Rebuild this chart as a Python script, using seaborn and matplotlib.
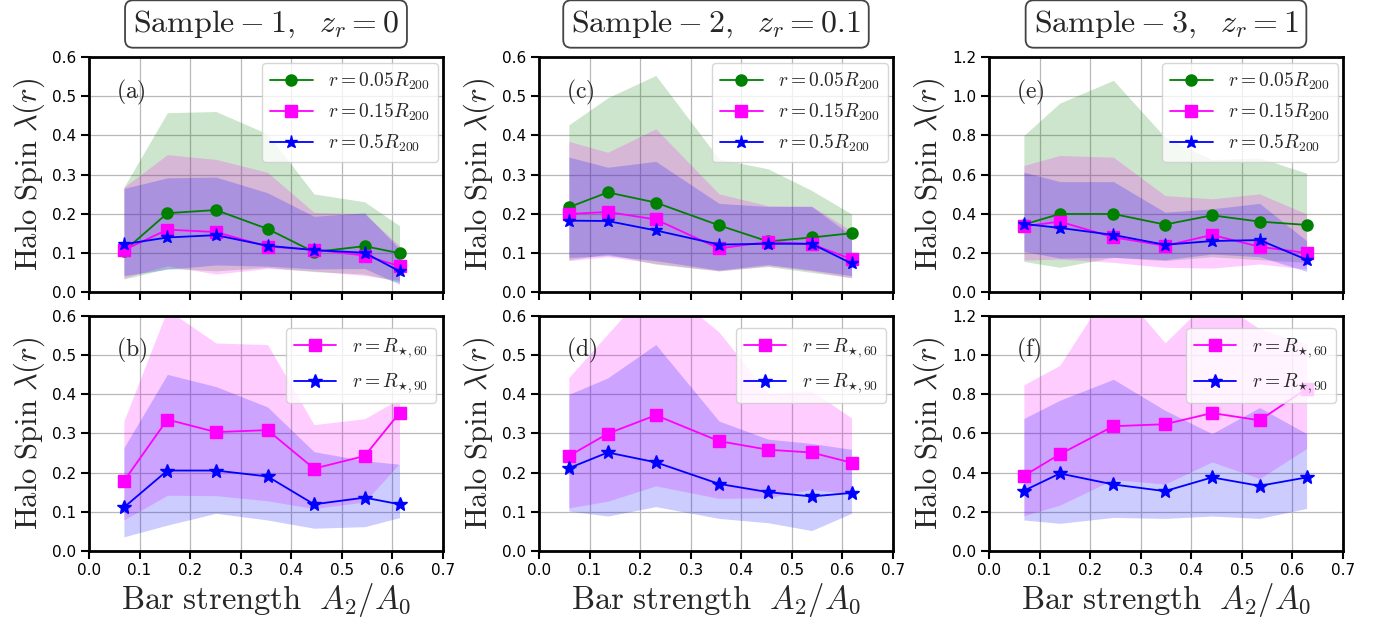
"""
Halo spin vs bar strength for the three samples (top: fixed radii, bottom: stellar radii).
"""
import numpy as np
import matplotlib
matplotlib.use('Agg')
import matplotlib.pyplot as plt
from matplotlib.ticker import FormatStrFormatter
import seaborn as sns

# ---- Sample 1 (z_r = 0) ----
x_s1 = [0.069, 0.155, 0.251, 0.353, 0.445, 0.545, 0.614]
s1_r005 = [0.105, 0.202, 0.210, 0.162, 0.103, 0.118, 0.100]
s1_r005_lo = [0.034, 0.061, 0.055, 0.064, 0.053, 0.047, 0.026]
s1_r005_hi = [0.268, 0.458, 0.461, 0.404, 0.251, 0.231, 0.170]
s1_r015 = [0.108, 0.160, 0.154, 0.117, 0.109, 0.094, 0.067]
s1_r015_lo = [0.037, 0.068, 0.047, 0.061, 0.055, 0.043, 0.031]
s1_r015_hi = [0.268, 0.351, 0.339, 0.306, 0.204, 0.200, 0.119]
s1_r05 = [0.123, 0.140, 0.146, 0.119, 0.108, 0.101, 0.054]
s1_r05_lo = [0.043, 0.059, 0.070, 0.067, 0.060, 0.061, 0.021]
s1_r05_hi = [0.265, 0.292, 0.294, 0.254, 0.194, 0.203, 0.111]
s1_r60 = [0.178, 0.335, 0.303, 0.308, 0.210, 0.242, 0.352]
s1_r60_lo = [0.079, 0.142, 0.141, 0.128, 0.108, 0.125, 0.223]
s1_r60_hi = [0.331, 0.615, 0.530, 0.526, 0.322, 0.337, 0.388]
s1_r90 = [0.111, 0.205, 0.205, 0.190, 0.119, 0.136, 0.119]
s1_r90_lo = [0.036, 0.066, 0.096, 0.079, 0.058, 0.062, 0.085]
s1_r90_hi = [0.263, 0.450, 0.419, 0.367, 0.253, 0.230, 0.221]

# ---- Sample 2 (z_r = 0.1) ----
x_s2 = [0.059, 0.136, 0.231, 0.356, 0.453, 0.539, 0.618]
s2_r005 = [0.217, 0.255, 0.229, 0.171, 0.130, 0.140, 0.151]
s2_r005_lo = [0.083, 0.098, 0.072, 0.055, 0.066, 0.051, 0.038]
s2_r005_hi = [0.427, 0.496, 0.553, 0.340, 0.315, 0.260, 0.200]
s2_r015 = [0.200, 0.205, 0.186, 0.112, 0.129, 0.123, 0.085]
s2_r015_lo = [0.081, 0.091, 0.074, 0.055, 0.068, 0.055, 0.037]
s2_r015_hi = [0.385, 0.357, 0.417, 0.251, 0.221, 0.220, 0.157]
s2_r05 = [0.183, 0.182, 0.158, 0.122, 0.124, 0.124, 0.074]
s2_r05_lo = [0.089, 0.094, 0.081, 0.057, 0.071, 0.057, 0.043]
s2_r05_hi = [0.345, 0.319, 0.334, 0.227, 0.219, 0.219, 0.145]
s2_r60 = [0.242, 0.299, 0.346, 0.280, 0.258, 0.251, 0.225]
s2_r60_lo = [0.110, 0.127, 0.166, 0.134, 0.136, 0.157, 0.145]
s2_r60_hi = [0.442, 0.553, 0.690, 0.558, 0.401, 0.408, 0.339]
s2_r90 = [0.211, 0.251, 0.226, 0.171, 0.150, 0.139, 0.148]
s2_r90_lo = [0.102, 0.089, 0.113, 0.083, 0.072, 0.052, 0.096]
s2_r90_hi = [0.399, 0.441, 0.526, 0.331, 0.285, 0.274, 0.259]

# ---- Sample 3 (z_r = 1) ----
x_s3 = [0.069, 0.140, 0.246, 0.348, 0.441, 0.535, 0.628]
s3_r005 = [0.346, 0.400, 0.400, 0.346, 0.393, 0.361, 0.344]
s3_r005_lo = [0.158, 0.128, 0.179, 0.162, 0.182, 0.167, 0.153]
s3_r005_hi = [0.800, 0.965, 1.081, 0.791, 0.677, 0.686, 0.608]
s3_r015 = [0.337, 0.361, 0.281, 0.238, 0.293, 0.233, 0.201]
s3_r015_lo = [0.165, 0.170, 0.153, 0.128, 0.124, 0.145, 0.119]
s3_r015_hi = [0.647, 0.698, 0.689, 0.494, 0.477, 0.502, 0.400]
s3_r05 = [0.349, 0.329, 0.293, 0.243, 0.262, 0.267, 0.167]
s3_r05_lo = [0.209, 0.175, 0.179, 0.167, 0.196, 0.182, 0.107]
s3_r05_hi = [0.613, 0.565, 0.565, 0.409, 0.426, 0.454, 0.264]
s3_r60 = [0.383, 0.493, 0.636, 0.646, 0.703, 0.666, 0.827]
s3_r60_lo = [0.180, 0.234, 0.364, 0.341, 0.454, 0.369, 0.522]
s3_r60_hi = [0.847, 0.946, 1.370, 1.061, 1.294, 1.132, 1.056]
s3_r90 = [0.307, 0.395, 0.339, 0.305, 0.375, 0.332, 0.375]
s3_r90_lo = [0.158, 0.141, 0.171, 0.166, 0.178, 0.166, 0.217]
s3_r90_hi = [0.675, 0.768, 0.875, 0.717, 0.598, 0.731, 0.598]

sample_titles = [r'$\mathrm{Sample}-1,\ \ z_r=0$',
                 r'$\mathrm{Sample}-2,\ \ z_r=0.1$',
                 r'$\mathrm{Sample}-3,\ \ z_r=1$']
top_letters = ['(a)', '(c)', '(e)']
bottom_letters = ['(b)', '(d)', '(f)']
y_max = [0.6, 0.6, 1.2]
y_step = [0.1, 0.1, 0.2]

lab_r005 = r'$r=0.05R_{200}$'
lab_r015 = r'$r=0.15R_{200}$'
lab_r05 = r'$r=0.5R_{200}$'
lab_r60 = r'$r=R_{\star,60}$'
lab_r90 = r'$r=R_{\star,90}$'

top_data = [
    (x_s1, [(s1_r005, s1_r005_lo, s1_r005_hi), (s1_r015, s1_r015_lo, s1_r015_hi), (s1_r05, s1_r05_lo, s1_r05_hi)]),
    (x_s2, [(s2_r005, s2_r005_lo, s2_r005_hi), (s2_r015, s2_r015_lo, s2_r015_hi), (s2_r05, s2_r05_lo, s2_r05_hi)]),
    (x_s3, [(s3_r005, s3_r005_lo, s3_r005_hi), (s3_r015, s3_r015_lo, s3_r015_hi), (s3_r05, s3_r05_lo, s3_r05_hi)]),
]
bottom_data = [
    (x_s1, [(s1_r60, s1_r60_lo, s1_r60_hi), (s1_r90, s1_r90_lo, s1_r90_hi)]),
    (x_s2, [(s2_r60, s2_r60_lo, s2_r60_hi), (s2_r90, s2_r90_lo, s2_r90_hi)]),
    (x_s3, [(s3_r60, s3_r60_lo, s3_r60_hi), (s3_r90, s3_r90_lo, s3_r90_hi)]),
]

top_styles = [('green', 'o', 8, lab_r005), ('magenta', 's', 8, lab_r015), ('blue', '*', 9.5, lab_r05)]
bottom_styles = [('magenta', 's', 9, lab_r60), ('blue', '*', 10, lab_r90)]


def draw_series(ax, x, mid, lo, hi, color, marker, ms, label):
    """Shaded spread plus median line with markers."""
    ax.fill_between(x, lo, hi, color=color, alpha=0.2, lw=0)
    sns.lineplot(x=x, y=mid, ax=ax, color=color, marker=marker, markersize=ms,
                 markeredgecolor=color, markeredgewidth=1, lw=1.3, label=label)


sns.set_theme(style='whitegrid')
plt.rcParams['font.family'] = ['DejaVu Sans']
plt.rcParams['mathtext.fontset'] = 'cm'

fig, axes = plt.subplots(2, 3, figsize=(13.88, 6.24), dpi=100)
fig.subplots_adjust(left=0.0641, right=0.9676, top=0.9087, bottom=0.117,
                    wspace=0.271, hspace=0.098)

for col in range(3):
    for row in range(2):
        ax = axes[row, col]
        ax.set_facecolor('white')
        ax.grid(True, color='#b8b8b8', lw=0.9)
        for sp in ax.spines.values():
            sp.set_color('black')
            sp.set_linewidth(2)
        ax.tick_params(direction='out', length=6, width=1.5, colors='black',
                       labelsize=11, bottom=True, left=True, pad=3)
        ax.set_xlim(0, 0.7)
        ax.set_xticks(np.arange(0, 0.71, 0.1))
        ax.set_ylim(0, y_max[col])
        ax.set_yticks(np.arange(0, y_max[col] + 1e-6, y_step[col]))
        ax.xaxis.set_major_formatter(FormatStrFormatter('%.1f'))
        ax.yaxis.set_major_formatter(FormatStrFormatter('%.1f'))
        ax.set_ylabel(r'$\mathrm{Halo\ Spin}\ \lambda(r)$', fontsize=22, labelpad=4)

    # top row: fixed fractions of R200
    ax = axes[0, col]
    x, series = top_data[col]
    for (mid, lo, hi), (color, marker, ms, label) in zip(series, top_styles):
        draw_series(ax, x, mid, lo, hi, color, marker, ms, label)
    ax.tick_params(labelbottom=False)
    ax.set_xlabel('')
    ax.legend(loc='upper right', bbox_to_anchor=(0.986, 0.974), borderaxespad=0,
              fontsize=14, framealpha=0.8, edgecolor='0.8', handlelength=2.2)
    ax.text(0.076, 0.85, r'$\mathrm{%s}$' % top_letters[col], transform=ax.transAxes,
            fontsize=17, ha='left', va='center')
    ax.text(0.5, 1.14, sample_titles[col], transform=ax.transAxes, fontsize=23,
            ha='center', va='center',
            bbox=dict(boxstyle='round,pad=0.25', fc='white', ec='#444444', lw=1.3))

    # bottom row: stellar half-mass style radii
    ax = axes[1, col]
    x, series = bottom_data[col]
    for (mid, lo, hi), (color, marker, ms, label) in zip(series, bottom_styles):
        draw_series(ax, x, mid, lo, hi, color, marker, ms, label)
    ax.set_xlabel(r'$\mathrm{Bar\ strength}\ \ A_2/A_0$', fontsize=23.5, labelpad=2)
    ax.legend(loc='upper right', bbox_to_anchor=(0.98, 0.945), borderaxespad=0,
              fontsize=14, framealpha=0.8, edgecolor='0.8', handlelength=2.2,
              labelspacing=0.6)
    ax.text(0.076, 0.85, r'$\mathrm{%s}$' % bottom_letters[col], transform=ax.transAxes,
            fontsize=17, ha='left', va='center')

fig.savefig('out.png', dpi=100)
plt.close()
